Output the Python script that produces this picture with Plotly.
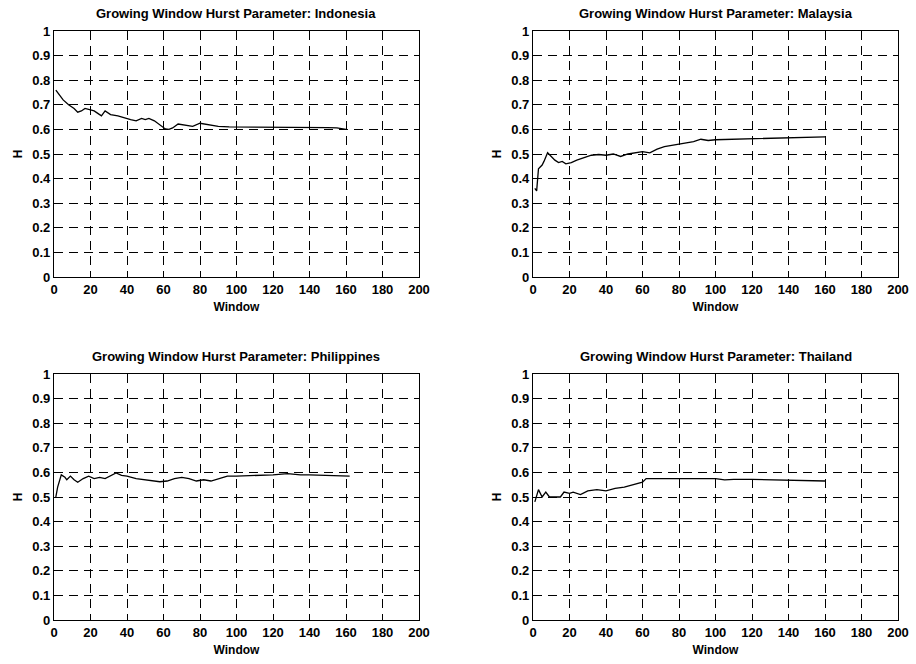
import plotly.graph_objects as go

# Growing-window Hurst exponent estimates by market
indonesia_w = [1, 3, 5, 8, 11, 13, 15, 17, 20, 22, 24, 26, 28, 31, 35, 39, 42, 45, 48, 50, 52, 55, 57, 59, 61, 63, 65, 68, 72, 76, 80, 84, 90, 96, 100, 110, 120, 130, 140, 150, 155, 160]
indonesia_h = [0.76, 0.74, 0.72, 0.70, 0.685, 0.67, 0.675, 0.685, 0.68, 0.675, 0.665, 0.655, 0.675, 0.66, 0.655, 0.645, 0.64, 0.635, 0.645, 0.64, 0.645, 0.635, 0.625, 0.612, 0.602, 0.600, 0.606, 0.622, 0.618, 0.612, 0.625, 0.620, 0.612, 0.610, 0.610, 0.610, 0.608, 0.610, 0.608, 0.607, 0.606, 0.600]

malaysia_w = [1, 2, 3, 5, 6, 8, 10, 12, 14, 16, 18, 21, 24, 28, 32, 36, 40, 44, 48, 52, 56, 60, 64, 68, 72, 76, 80, 84, 88, 92, 96, 100, 110, 120, 130, 140, 150, 160]
malaysia_h = [0.36, 0.35, 0.44, 0.455, 0.47, 0.505, 0.49, 0.475, 0.465, 0.47, 0.46, 0.465, 0.475, 0.485, 0.495, 0.498, 0.495, 0.50, 0.49, 0.50, 0.505, 0.51, 0.505, 0.52, 0.53, 0.535, 0.54, 0.545, 0.55, 0.56, 0.555, 0.558, 0.560, 0.563, 0.565, 0.565, 0.568, 0.570]

philippines_w = [1, 2, 4, 6, 7, 9, 11, 13, 16, 19, 22, 25, 28, 31, 34, 37, 40, 45, 50, 55, 58, 62, 66, 70, 74, 78, 82, 86, 90, 95, 100, 110, 120, 128, 135, 140, 150, 162]
philippines_h = [0.50, 0.54, 0.59, 0.58, 0.57, 0.585, 0.57, 0.56, 0.575, 0.585, 0.575, 0.58, 0.575, 0.585, 0.598, 0.588, 0.585, 0.575, 0.57, 0.565, 0.562, 0.565, 0.575, 0.58, 0.575, 0.565, 0.57, 0.565, 0.575, 0.585, 0.585, 0.586, 0.590, 0.595, 0.590, 0.590, 0.588, 0.585]

thailand_w = [1, 3, 5, 7, 9, 12, 15, 17, 20, 22, 26, 30, 35, 40, 45, 50, 55, 58, 60, 62, 70, 80, 90, 100, 105, 110, 120, 130, 140, 150, 160]
thailand_h = [0.48, 0.53, 0.50, 0.52, 0.50, 0.50, 0.50, 0.52, 0.515, 0.52, 0.51, 0.525, 0.53, 0.525, 0.535, 0.54, 0.55, 0.555, 0.56, 0.575, 0.575, 0.575, 0.575, 0.575, 0.570, 0.572, 0.572, 0.570, 0.570, 0.568, 0.565]

panels = [
    ("Indonesia", indonesia_w, indonesia_h),
    ("Malaysia", malaysia_w, malaysia_h),
    ("Philippines", philippines_w, philippines_h),
    ("Thailand", thailand_w, thailand_h),
]

x_ticks = list(range(0, 201, 20))
y_ticks = [0, 0.1, 0.2, 0.3, 0.4, 0.5, 0.6, 0.7, 0.8, 0.9, 1]
y_tick_text = ["0", "0.1", "0.2", "0.3", "0.4", "0.5", "0.6", "0.7", "0.8", "0.9", "1"]

W, H = 916, 664
x_domains = [[54 / W, 419 / W], [533 / W, 898 / W]]
y_domains = [[1 - 277 / H, 1 - 31 / H], [1 - 620 / H, 1 - 374 / H]]

FONT = "Liberation Sans, Arial, sans-serif"

fig = go.Figure()
annotations = []
for i, (name, w, h) in enumerate(panels):
    row, col = divmod(i, 2)
    suffix = "" if i == 0 else str(i + 1)
    fig.add_trace(go.Scatter(
        x=w, y=h, mode="lines",
        line=dict(color="black", width=1.3),
        xaxis="x" + suffix, yaxis="y" + suffix, showlegend=False,
    ))
    axis_common = dict(
        showline=True, linecolor="black", linewidth=1.2, mirror="ticks",
        ticks="inside", ticklen=4, tickcolor="black",
        showgrid=True, gridcolor="black", gridwidth=1, griddash="9px,6px",
        zeroline=False, fixedrange=True, automargin=False,
        tickfont=dict(family=FONT, size=13, color="black", weight="bold"),
    )
    fig.layout["xaxis" + suffix] = dict(
        axis_common, domain=x_domains[col], range=[0, 200],
        tickvals=x_ticks, anchor="y" + suffix,
        title=dict(text="Window", standoff=6,
                   font=dict(family=FONT, size=12, color="black", weight="bold")),
    )
    fig.layout["yaxis" + suffix] = dict(
        axis_common, domain=y_domains[row], range=[0, 1],
        tickvals=y_ticks, ticktext=y_tick_text, anchor="x" + suffix,
        title=dict(text="H", standoff=7,
                   font=dict(family=FONT, size=12, color="black", weight="bold")),
    )
    annotations.append(dict(
        text="Growing Window Hurst Parameter: " + name,
        x=sum(x_domains[col]) / 2, y=y_domains[row][1] + 18 / H,
        xref="paper", yref="paper", xanchor="center", yanchor="middle",
        showarrow=False,
        font=dict(family=FONT, size=13, color="black", weight="bold"),
    ))

fig.update_layout(
    width=W, height=H, margin=dict(l=0, r=0, t=0, b=0, autoexpand=False),
    paper_bgcolor="white", plot_bgcolor="white",
    annotations=annotations,
)
fig.write_html("out.html")
